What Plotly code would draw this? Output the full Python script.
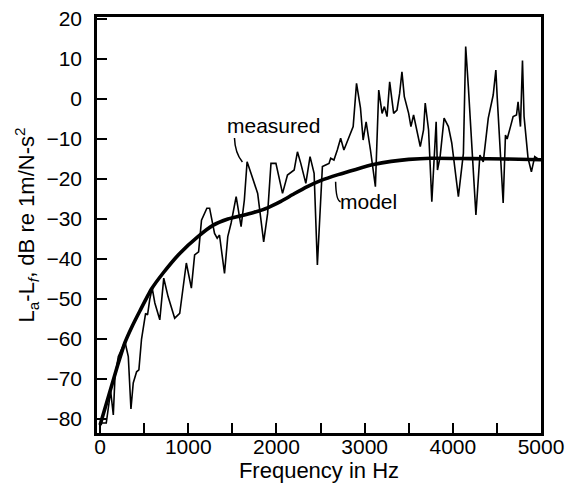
import plotly.graph_objects as go

# measured transfer level
freq_meas = [0, 70, 120, 150, 169, 207, 282, 320, 350, 376, 414, 440, 470, 500, 516, 538, 564, 591,
             621, 677, 722, 771, 846, 903, 978, 1035, 1072, 1117, 1140, 1150, 1211, 1242, 1298, 1328,
             1354, 1411, 1448, 1486, 1543, 1599, 1636, 1667, 1712, 1787, 1855, 1900, 1938, 1994, 2069,
             2125, 2201, 2238, 2276, 2333, 2381, 2427, 2464, 2502, 2521, 2558, 2596, 2615, 2652, 2690,
             2728, 2765, 2803, 2840, 2870, 2908, 2953, 2983, 3017, 3066, 3122, 3160, 3198, 3224, 3254,
             3284, 3329, 3367, 3397, 3423, 3450, 3499, 3525, 3555, 3593, 3631, 3668, 3687, 3725, 3762,
             3811, 3826, 3856, 3901, 3950, 3988, 4063, 4120, 4146, 4176, 4262, 4307, 4345, 4402, 4458,
             4488, 4503, 4571, 4597, 4616, 4654, 4684, 4722, 4740, 4767, 4790, 4808, 4853, 4891, 4929,
             4966]
level_meas = [-81, -81, -73, -79, -69.4, -64.4, -60.7, -64.4, -77.5, -71, -68.2, -67.7, -60, -56,
              -53.6, -54, -50, -47.3, -51, -55.2, -44.8, -49.4, -54.8, -53.6, -41, -47.3, -39, -38.2,
              -33.6, -30.3, -27.3, -27.3, -33.6, -34.8, -34, -43.6, -34.4, -31, -24.4, -31.9, -25.25,
              -15.7, -18.6, -23.6, -35.7, -28.6, -16.1, -16.1, -23.6, -19, -17.75, -13.2, -16.1,
              -21.1, -14.4, -18.6, -41.5, -26, -16.9, -16.5, -16.1, -14.8, -15.25, -12.75, -9.8,
              -12.75, -10.7, -9, -6.9, 3.9, -2.3, -10.25, -5.7, -12.75, -21.9, 2.25, -3.6, -1.9, -4.4,
              4.3, -3.6, -2.75, 1.4, 6.8, 0.6, -3.6, -6.9, -4, -7.75, -11.9, -7.75, -1, -7.75, -25.7,
              -5.7, -17.75, -14.4, -4.8, -6.9, -11, -24.4, -13.6, 13.1, 3.1, -29, -14, -15.7, -4.8,
              1, 7.25, 0.6, -26, -9, -10, -6.9, -4.4, -4, -0.7, -6.9, 9.6, -4.4, -14.8, -18.2, -14.4,
              -15]

# model curve
freq_model = [0, 100, 200, 280, 360, 451, 583, 715, 903, 1110, 1279, 1450, 1600, 1750, 1900, 2050,
              2200, 2350, 2500, 2700, 2900, 3100, 3300, 3500, 3750, 4200, 4600, 5000]
level_model = [-81.5, -74, -66.5, -61, -57, -53, -47.5, -43.5, -38.6, -34.4, -31.6, -30.0, -29.2,
               -28.3, -27.2, -25.6, -23.7, -21.9, -20.4, -18.9, -17.6, -16.4, -15.6, -15.1, -14.8,
               -14.9, -15, -15.2]

x_ticks = list(range(0, 5001, 1000))
y_ticks = list(range(-80, 21, 10))

font = "Arial, Liberation Sans, sans-serif"

fig = go.Figure()
fig.add_trace(go.Scatter(x=freq_meas, y=level_meas, mode="lines",
                         line=dict(color="black", width=1.6)))
fig.add_trace(go.Scatter(x=freq_model, y=level_model, mode="lines",
                         line=dict(color="black", width=3.6, shape="spline", smoothing=0.6)))

# leader lines next to the labels
fig.add_shape(type="path", path="M 1524 -9.75 Q 1530 -13.5 1614 -15.75",
              line=dict(color="black", width=1.5), xref="x", yref="y")
fig.add_shape(type="path", path="M 2671 -20.7 Q 2675 -25.5 2728 -25.7",
              line=dict(color="black", width=1.5), xref="x", yref="y")

fig.add_annotation(x=1964, y=-6.7, text="measured", showarrow=False,
                   font=dict(family=font, size=21, color="black"))
fig.add_annotation(x=3047, y=-25.6, text="model", showarrow=False,
                   font=dict(family=font, size=21, color="black"))

fig.update_layout(
    width=578, height=489,
    margin=dict(l=97, r=37, t=17, b=56),
    paper_bgcolor="white", plot_bgcolor="white",
    showlegend=False,
    font=dict(family=font, size=21, color="black"))

fig.update_xaxes(range=[-35, 5000], tickvals=x_ticks, automargin=False,
                 ticks="inside", ticklen=10, tickwidth=2, tickcolor="black",
                 ticklabelstandoff=-7,
                 minor=dict(dtick=500, tick0=0, ticks="inside", ticklen=10, tickwidth=2,
                            tickcolor="black", showgrid=False),
                 showline=True, linewidth=2.5, linecolor="black", mirror=True,
                 showgrid=False, zeroline=False,
                 title=dict(text="Frequency in Hz", standoff=0, font=dict(size=22)))
fig.update_yaxes(range=[-83.5, 20.5], tickvals=y_ticks, automargin=False,
                 ticks="inside", ticklen=10, tickwidth=2, tickcolor="black",
                 ticklabelstandoff=8,
                 showline=True, linewidth=2.5, linecolor="black", mirror=True,
                 showgrid=False, zeroline=False,
                 title=dict(text="L<sub>a</sub>-L<sub><i>f</i></sub>, dB re 1m/N-s<sup>2</sup>",
                            standoff=6, font=dict(size=22)))

# the page body has a default 8px margin; drop it so the figure sits at the corner
fig.write_html("out.html", config={"displayModeBar": False},
               post_script="document.body.style.margin='0';")
